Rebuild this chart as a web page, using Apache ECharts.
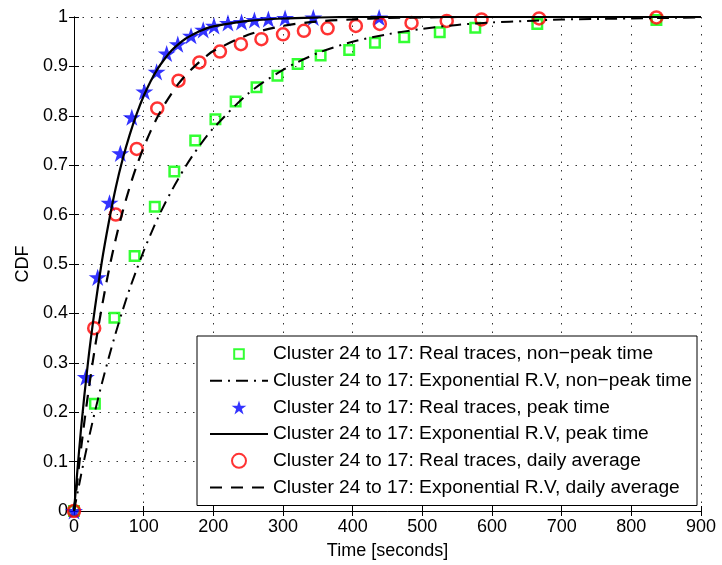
<!DOCTYPE html>
<html>
<head>
<meta charset="utf-8">
<script src="https://cdn.jsdelivr.net/npm/echarts@6/dist/echarts.min.js"></script>
<style>
html,body{margin:0;padding:0;background:#fff;}
#chart{width:722px;height:565px;}
</style>
</head>
<body>
<div id="chart"></div>
<script>
// Real traces (markers)
const nonPeakX = [0, 30, 58, 87, 116, 144, 174, 203, 232, 262, 292, 321, 354, 395, 432, 474, 525, 576, 665, 836];
const nonPeakY = [0, 0.217, 0.391, 0.516, 0.616, 0.687, 0.75, 0.793, 0.829, 0.858, 0.881, 0.905, 0.922, 0.933, 0.948, 0.959, 0.969, 0.978, 0.986, 0.994];

const peakX = [0, 17, 34, 51, 66.5, 83, 101, 118.6, 133, 149, 168, 185.5, 201, 221, 240.5, 259, 279, 303, 343.5, 438];
const peakY = [0, 0.271, 0.473, 0.624, 0.724, 0.797, 0.849, 0.889, 0.926, 0.945, 0.962, 0.974, 0.982, 0.988, 0.99, 0.994, 0.996, 0.998, 0.999, 0.999];

const dailyX = [0, 29, 60, 90, 119.5, 150, 180, 209.5, 239.6, 269, 300, 330, 364, 404.6, 439, 484.5, 535, 585, 667.6, 836];
const dailyY = [0, 0.37, 0.6, 0.733, 0.815, 0.871, 0.908, 0.93, 0.945, 0.955, 0.965, 0.972, 0.977, 0.982, 0.986, 0.988, 0.992, 0.995, 0.997, 0.999];

// Exponential R.V curves
const curveX = [0, 10, 20, 30, 40, 50, 60, 70, 80, 90, 100, 110, 120, 130, 140, 150, 160, 170, 180, 190, 200,
                250, 300, 350, 400, 450, 500, 550, 600, 650, 700, 750, 800, 850, 900];
const nonPeakCurve = [0, 0.072, 0.139, 0.201, 0.258, 0.311, 0.361, 0.407, 0.45, 0.489, 0.526, 0.56, 0.592, 0.621, 0.648, 0.673, 0.697, 0.719, 0.739, 0.758, 0.775,
                      0.845, 0.893, 0.927, 0.95, 0.965, 0.976, 0.984, 0.989, 0.992, 0.995, 0.996, 0.997, 0.998, 0.999];
const peakCurve = [0, 0.165, 0.3, 0.41, 0.505, 0.585, 0.655, 0.713, 0.762, 0.804, 0.84, 0.87, 0.895, 0.915, 0.932, 0.945, 0.956, 0.964, 0.971, 0.977, 0.981,
                   0.992, 0.997, 0.999, 1, 1, 1, 1, 1, 1, 1, 1, 1, 1, 1];
const dailyCurve = [0, 0.125, 0.235, 0.33, 0.413, 0.487, 0.551, 0.607, 0.656, 0.699, 0.736, 0.769, 0.798, 0.823, 0.845, 0.865, 0.882, 0.896, 0.909, 0.921, 0.931,
                    0.964, 0.982, 0.991, 0.995, 0.998, 0.999, 1, 1, 1, 1, 1, 1, 1, 1];

const xTicks = [0, 100, 200, 300, 400, 500, 600, 700, 800, 900];
const yTicks = [0, 0.1, 0.2, 0.3, 0.4, 0.5, 0.6, 0.7, 0.8, 0.9, 1];

const names = [
  'Cluster 24 to 17: Real traces, non\u2212peak time',
  'Cluster 24 to 17: Exponential R.V, non\u2212peak time',
  'Cluster 24 to 17: Real traces, peak time',
  'Cluster 24 to 17: Exponential R.V, peak time',
  'Cluster 24 to 17: Real traces, daily average',
  'Cluster 24 to 17: Exponential R.V, daily average'
];

function zip(xs, ys) { return xs.map((x, i) => [x, ys[i]]); }

const FONT = '"Liberation Sans", Arial, Helvetica, sans-serif';
const STAR = 'path://M50,0 L61.2,34.5 L97.6,34.5 L68.2,55.9 L79.4,90.5 L50,69.1 L20.6,90.5 L31.8,55.9 L2.4,34.5 L38.8,34.5 Z';
const SQUARE = 'path://M0,0 L10,0 L10,10 L0,10 Z';
const LEGEND_SQUARE = 'path://M0,0 L0,0 M2.2,2.2 L11.8,2.2 L11.8,11.8 L2.2,11.8 Z M14,14 L14,14';
const hidden = {color: 'rgba(0,0,0,0)', borderColor: 'rgba(0,0,0,0)', borderWidth: 0};

const chart = echarts.init(document.getElementById('chart'), null, {renderer: 'canvas'});
const gridLine = {show: true, lineStyle: {color: '#333', width: 1, type: [1.5, 7]}};

chart.setOption({
  animation: false,
  backgroundColor: '#fff',
  textStyle: {fontFamily: FONT},
  grid: {left: 74, right: 21, top: 17, bottom: 54, containLabel: false},
  xAxis: [{
    type: 'value', min: xTicks[0], max: xTicks[xTicks.length - 1], interval: 100,
    position: 'bottom',
    name: 'Time [seconds]', nameLocation: 'middle', nameGap: 31,
    nameTextStyle: {fontSize: 18, color: '#000', fontFamily: FONT},
    axisLine: {show: true, lineStyle: {color: '#000', width: 1}},
    axisTick: {show: true, inside: true, length: 5, lineStyle: {color: '#000'}},
    axisLabel: {fontSize: 18, color: '#000', margin: 7, fontFamily: FONT},
    splitLine: gridLine
  }, {
    type: 'value', min: 0, max: 900, interval: 100, position: 'top',
    axisLine: {show: true, lineStyle: {color: '#000', width: 1}},
    axisTick: {show: true, inside: true, length: 5, lineStyle: {color: '#000'}},
    axisLabel: {show: false}, splitLine: {show: false}
  }],
  yAxis: [{
    type: 'value', min: yTicks[0], max: yTicks[yTicks.length - 1], interval: 0.1,
    position: 'left',
    name: 'CDF', nameLocation: 'middle', nameGap: 38,
    nameTextStyle: {fontSize: 18, color: '#000', fontFamily: FONT},
    axisLine: {show: true, lineStyle: {color: '#000', width: 1}},
    axisTick: {show: true, inside: true, length: 5, lineStyle: {color: '#000'}},
    axisLabel: {fontSize: 18, color: '#000', margin: 6, fontFamily: FONT,
      formatter: v => String(Math.round(v * 10) / 10)},
    splitLine: gridLine
  }, {
    type: 'value', min: 0, max: 1, interval: 0.1, position: 'right',
    axisLine: {show: true, lineStyle: {color: '#000', width: 1}},
    axisTick: {show: true, inside: true, length: 5, lineStyle: {color: '#000'}},
    axisLabel: {show: false}, splitLine: {show: false}
  }],
  legend: {
    orient: 'vertical', left: 197, top: 336,
    padding: [8, 5, 8, 12],
    itemWidth: 58, itemHeight: 14, itemGap: 6.7,
    symbolKeepAspect: true,
    backgroundColor: '#fff', borderColor: '#000', borderWidth: 1, borderRadius: 0,
    textStyle: {fontSize: 19.2, color: '#000', fontFamily: FONT, lineHeight: 20},
    data: [
      {name: names[0], icon: LEGEND_SQUARE},
      {name: names[1], itemStyle: hidden},
      {name: names[2]},
      {name: names[3], itemStyle: hidden},
      {name: names[4]},
      {name: names[5], itemStyle: hidden}
    ]
  },
  series: [
    {
      name: names[0], type: 'scatter', data: zip(nonPeakX, nonPeakY),
      symbol: SQUARE, symbolSize: 9.5, symbolKeepAspect: true,
      itemStyle: {color: 'rgba(0,0,0,0)', borderColor: '#00ff00', borderWidth: 2.5},
      z: 3
    },
    {
      name: names[1], type: 'line', data: zip(curveX, nonPeakCurve),
      symbol: 'none', smooth: 0.3,
      lineStyle: {color: '#000', width: 2, type: [12, 6, 2, 6]},
      itemStyle: {color: '#000'},
      z: 4
    },
    {
      name: names[2], type: 'scatter', data: zip(peakX, peakY),
      symbol: STAR, symbolSize: 18, symbolKeepAspect: true,
      itemStyle: {color: '#0000ff'},
      z: 3
    },
    {
      name: names[3], type: 'line', data: zip(curveX, peakCurve),
      symbol: 'none', smooth: 0.3,
      lineStyle: {color: '#000', width: 2.2, type: 'solid'},
      itemStyle: {color: '#000'},
      z: 4
    },
    {
      name: names[4], type: 'scatter', data: zip(dailyX, dailyY),
      symbol: 'circle', symbolSize: 12,
      itemStyle: {color: 'rgba(0,0,0,0)', borderColor: '#ff0000', borderWidth: 2.5},
      z: 3
    },
    {
      name: names[5], type: 'line', data: zip(curveX, dailyCurve),
      symbol: 'none', smooth: 0.3,
      lineStyle: {color: '#000', width: 2.2, type: [12, 9]},
      itemStyle: {color: '#000'},
      z: 4
    }
  ]
});
</script>
</body>
</html>
